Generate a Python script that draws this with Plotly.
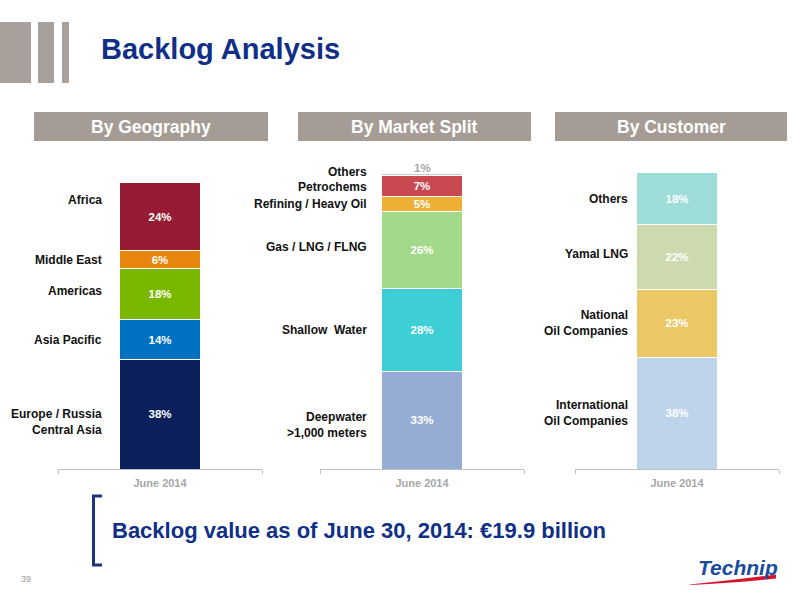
import plotly.graph_objects as go

# ---------------- data ----------------
period = ["June 2014"]

geo_labels = ["Europe / Russia<br>Central Asia", "Asia Pacific", "Americas", "Middle East", "Africa"]
geo_values = [38, 14, 18, 6, 24]

market_labels = ["Deepwater<br>&gt;1,000 meters", "Shallow  Water", "Gas / LNG / FLNG",
                 "Refining / Heavy Oil", "Petrochems", "Others"]
market_values = [33, 28, 26, 5, 7, 1]

customer_labels = ["International<br>Oil Companies", "National<br>Oil Companies", "Yamal LNG", "Others"]
customer_values = [38, 23, 22, 18]

# ---------------- style ----------------
W, H = 800, 600
def X(px): return px / W
def Y(py): return 1 - py / H

FONT = "Liberation Sans, Arial, Helvetica, sans-serif"
NAVY = "#102F86"
TAUPE = "#A59D95"
AXIS_GREY = "#BFBFBF"
TICK_GREY = "#A6A6A6"

geo_colors = ["#0B1F5C", "#0070C0", "#7AB800", "#E8850C", "#951C32"]
market_colors = ["#97ACD5", "#3ECFD6", "#A3D98A", "#EDB035", "#C84A50", "#C9C9C9"]
customer_colors = ["#BDD4EB", "#ECC765", "#CCDAAE", "#9EDDD8"]

panels = [
    dict(labels=geo_labels, values=geo_values, colors=geo_colors, ax="", dom=(58, 262),
         ymax=107.7, label_right=104),
    dict(labels=market_labels, values=market_values, colors=market_colors, ax="2", dom=(320, 524),
         ymax=104.4, label_right=369),
    dict(labels=customer_labels, values=customer_values, colors=customer_colors, ax="3", dom=(575, 779),
         ymax=105.1, label_right=630),
]

label_yshift = {
    "Africa": 17,
    "Europe / Russia<br>Central Asia": -8,
    "Deepwater<br>&gt;1,000 meters": -5,
    "Yamal LNG": 3,
    "Gas / LNG / FLNG": 3,
    "Americas": 3,
    "Petrochems": -1,
}
top_label_shift = {"Others": 2}

fig = go.Figure()
annotations = []
shapes = []

for p in panels:
    xa = "x" + p["ax"]
    ya = "y" + p["ax"]
    cum = 0
    n = len(p["values"])
    for i, (lab, val, col) in enumerate(zip(p["labels"], p["values"], p["colors"])):
        small_top = (i == n - 1 and val < 3)
        fig.add_trace(go.Bar(
            x=period, y=[val], name=lab, xaxis=xa, yaxis=ya,
            marker=dict(color=col, line=dict(color="white", width=1)),
            text=[f"{val}%"],
            textposition="none" if small_top else "inside",
            insidetextanchor="middle",
            textangle=0,
            constraintext="none",
            cliponaxis=False,
            textfont=dict(family=FONT, size=11.5, weight="bold", color="white"),
            showlegend=False, hoverinfo="skip",
        ))
        mid = cum + val / 2
        cum += val
        if small_top:
            annotations.append(dict(
                x=period[0], xref=xa, y=cum, yref=ya, yanchor="bottom", yshift=-3,
                text=f"{val}%", showarrow=False,
                font=dict(family=FONT, size=11.5, color=TICK_GREY, weight="bold"),
            ))
        shift = label_yshift.get(lab, 0)
        if small_top:
            shift += top_label_shift.get(lab, 0)
        annotations.append(dict(
            x=X(p["label_right"]), xref="paper", xanchor="right",
            y=mid, yref=ya, yanchor="middle",
            yshift=shift,
            text=lab, showarrow=False, align="right",
            font=dict(family=FONT, size=12, color="#111111", weight="bold"),
        ))

axis_common = dict(
    showline=True, linecolor=AXIS_GREY, linewidth=1,
    ticks="outside", ticklen=4, tickcolor=AXIS_GREY, tickson="boundaries",
    ticklabelstandoff=4,
    tickfont=dict(family=FONT, size=11, color=TICK_GREY, weight="bold"),
    showgrid=False, zeroline=False, fixedrange=True,
)
yaxis_common = dict(visible=False, showgrid=False, zeroline=False, fixedrange=True)

layout_axes = {}
for p in panels:
    key = p["ax"]
    layout_axes["xaxis" + key] = dict(axis_common, domain=[X(p["dom"][0]), X(p["dom"][1])],
                                      anchor="y" + key)
    layout_axes["yaxis" + key] = dict(yaxis_common, domain=[Y(469), Y(160)],
                                      range=[0, p["ymax"]], anchor="x" + key)

# header boxes
headers = [("By Geography", 34, 268), ("By Market Split", 298, 531), ("By Customer", 555, 787)]
for txt, x0, x1 in headers:
    shapes.append(dict(type="rect", xref="paper", yref="paper",
                       x0=X(x0), x1=X(x1), y0=Y(141), y1=Y(112),
                       fillcolor=TAUPE, line=dict(width=0), layer="below"))
    annotations.append(dict(x=X((x0 + x1) / 2), y=Y(127), xref="paper", yref="paper",
                            text=txt, showarrow=False, xanchor="center", yanchor="middle",
                            font=dict(family=FONT, size=17.5, color="white", weight="bold")))

# decorative bars top-left
for x0, x1 in [(0, 31), (38, 54), (62, 69)]:
    shapes.append(dict(type="rect", xref="paper", yref="paper",
                       x0=X(x0), x1=X(x1), y0=Y(83), y1=Y(22),
                       fillcolor="#A8A19B", line=dict(width=0)))

# title
annotations.append(dict(x=X(99), y=Y(49), xref="paper", yref="paper", xanchor="left",
                        yanchor="middle", text="Backlog Analysis", showarrow=False,
                        font=dict(family=FONT, size=29, color=NAVY, weight="bold")))

# bracket + footer text
shapes.append(dict(type="path", xref="paper", yref="paper",
                   path=f"M {X(102)},{Y(496)} L {X(93.5)},{Y(496)} L {X(93.5)},{Y(565)} L {X(102)},{Y(565)}",
                   line=dict(color="#1B3578", width=3)))
annotations.append(dict(x=X(110), y=Y(530), xref="paper", yref="paper", xanchor="left",
                        yanchor="middle", text="Backlog value as of June 30, 2014: €19.9 billion",
                        showarrow=False,
                        font=dict(family=FONT, size=22, color=NAVY, weight="bold")))

# page number
annotations.append(dict(x=X(19), y=Y(579), xref="paper", yref="paper", xanchor="left",
                        yanchor="middle", text="39", showarrow=False,
                        font=dict(family=FONT, size=9, color="#999999")))

# logo
annotations.append(dict(x=X(738), y=Y(567), xref="paper", yref="paper", xanchor="center",
                        yanchor="middle", text="Technip", showarrow=False,
                        font=dict(family=FONT, size=21, color="#1A4C9E", weight="bold",
                                  style="italic")))
shapes.append(dict(type="path", xref="paper", yref="paper",
                   path=(f"M {X(690)},{Y(584.5)} Q {X(735)},{Y(580)} {X(776)},{Y(574.5)} "
                         f"L {X(776)},{Y(578.5)} Q {X(735)},{Y(583)} {X(690)},{Y(585)} Z"),
                   fillcolor="#D4152B", line=dict(width=0)))

fig.update_layout(
    width=W, height=H,
    margin=dict(l=0, r=0, t=0, b=0),
    paper_bgcolor="white", plot_bgcolor="white",
    barmode="stack", bargap=0.6,
    font=dict(family=FONT),
    annotations=annotations, shapes=shapes,
    showlegend=False,
    **layout_axes,
)

fig.write_html("out.html", config={"displayModeBar": False},
               post_script="document.body.style.margin='0px';document.body.style.overflow='hidden';")
